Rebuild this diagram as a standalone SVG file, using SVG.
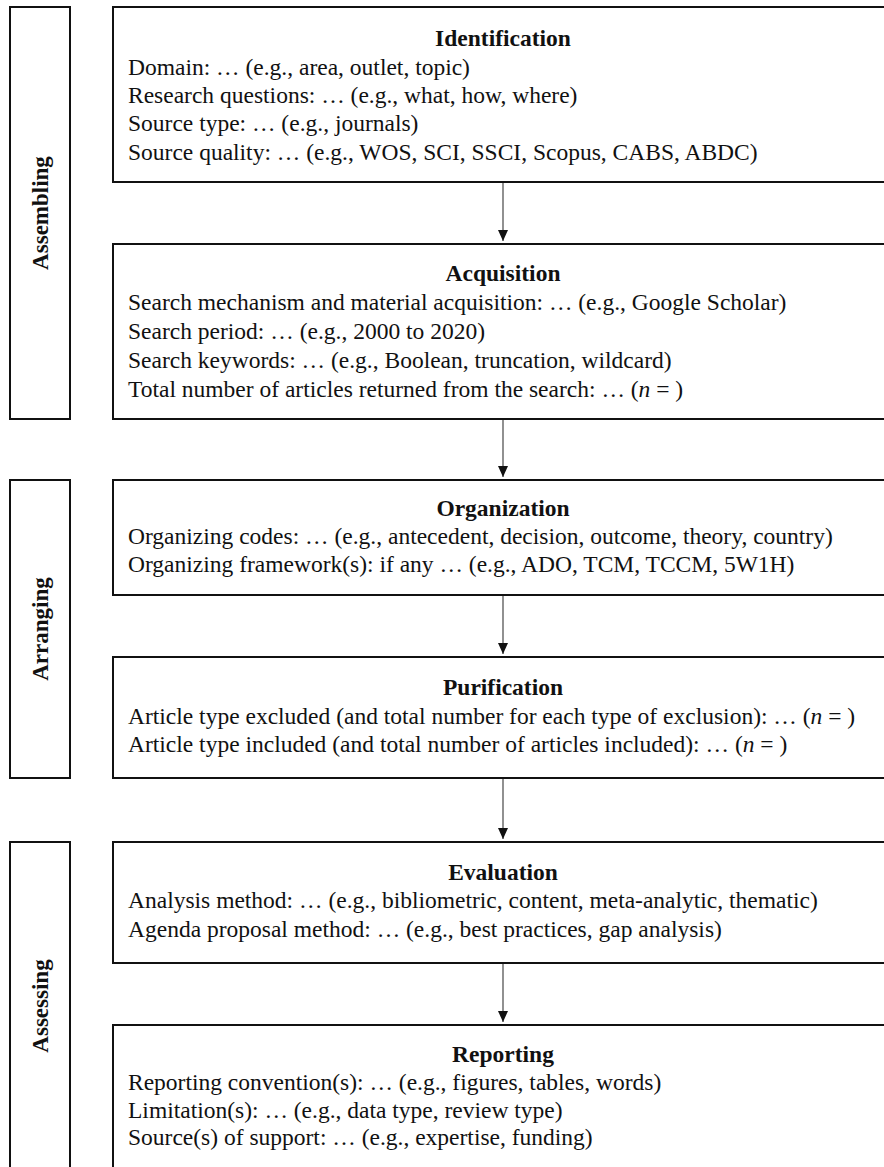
<svg xmlns="http://www.w3.org/2000/svg" width="884" height="1167" viewBox="0 0 884 1167">
<defs>
<style>
.box{fill:#fff;stroke:#111;stroke-width:2}
.t{font-family:"Liberation Serif","Times New Roman",serif;font-size:23.5px;fill:#111}
.h{font-family:"Liberation Serif","Times New Roman",serif;font-size:23.5px;font-weight:bold;fill:#111;text-anchor:middle}
.side{font-family:"Liberation Serif","Times New Roman",serif;font-size:23px;font-weight:bold;fill:#111;text-anchor:middle}
.conn{stroke:#555;stroke-width:1.3;fill:none}
</style>
<marker id="ah" viewBox="0 0 11 10" refX="11" refY="5" markerWidth="11" markerHeight="10" markerUnits="userSpaceOnUse" orient="auto">
<path d="M0,0 L11,5 L0,10 Z" fill="#111"/>
</marker>
</defs>
<rect width="884" height="1167" fill="#fff"/>

<g id="stage-assembling">
<rect class="box" x="10" y="7" width="60" height="412"/>
<text class="side" transform="translate(48,213) rotate(-90)">Assembling</text>
</g>
<g id="stage-arranging">
<rect class="box" x="10" y="480" width="60" height="298"/>
<text class="side" transform="translate(48,629) rotate(-90)">Arranging</text>
</g>
<g id="stage-assessing">
<rect class="box" x="10" y="842" width="60" height="340"/>
<text class="side" transform="translate(48,1006) rotate(-90)">Assessing</text>
</g>

<g id="identification">
<rect class="box" x="113" y="7" width="790" height="175"/>
<text class="h" x="503" y="46">Identification</text>
<text class="t" x="128" y="75">Domain: … (e.g., area, outlet, topic)</text>
<text class="t" x="128" y="103">Research questions: … (e.g., what, how, where)</text>
<text class="t" x="128" y="131">Source type: … (e.g., journals)</text>
<text class="t" x="128" y="160">Source quality: … (e.g., WOS, SCI, SSCI, Scopus, CABS, ABDC)</text>
</g>

<g id="acquisition">
<rect class="box" x="113" y="244" width="790" height="175"/>
<text class="h" x="503" y="281">Acquisition</text>
<text class="t" x="128" y="310">Search mechanism and material acquisition: … (e.g., Google Scholar)</text>
<text class="t" x="128" y="339">Search period: … (e.g., 2000 to 2020)</text>
<text class="t" x="128" y="368">Search keywords: … (e.g., Boolean, truncation, wildcard)</text>
<text class="t" x="128" y="397">Total number of articles returned from the search: … (<tspan font-style="italic">n</tspan> = )</text>
</g>

<g id="organization">
<rect class="box" x="113" y="480" width="790" height="115"/>
<text class="h" x="503" y="516">Organization</text>
<text class="t" x="128" y="544">Organizing codes: … (e.g., antecedent, decision, outcome, theory, country)</text>
<text class="t" x="128" y="572">Organizing framework(s): if any … (e.g., ADO, TCM, TCCM, 5W1H)</text>
</g>

<g id="purification">
<rect class="box" x="113" y="657" width="790" height="121"/>
<text class="h" x="503" y="695">Purification</text>
<text class="t" x="128" y="724">Article type excluded (and total number for each type of exclusion): … (<tspan font-style="italic">n</tspan> = )</text>
<text class="t" x="128" y="752">Article type included (and total number of articles included): … (<tspan font-style="italic">n</tspan> = )</text>
</g>

<g id="evaluation">
<rect class="box" x="113" y="842" width="790" height="121"/>
<text class="h" x="503" y="880">Evaluation</text>
<text class="t" x="128" y="908">Analysis method: … (e.g., bibliometric, content, meta-analytic, thematic)</text>
<text class="t" x="128" y="937">Agenda proposal method: … (e.g., best practices, gap analysis)</text>
</g>

<g id="reporting">
<rect class="box" x="113" y="1025" width="790" height="170"/>
<text class="h" x="503" y="1062">Reporting</text>
<text class="t" x="128" y="1090">Reporting convention(s): … (e.g., figures, tables, words)</text>
<text class="t" x="128" y="1118">Limitation(s): … (e.g., data type, review type)</text>
<text class="t" x="128" y="1145">Source(s) of support: … (e.g., expertise, funding)</text>
</g>

<g id="connectors">
<line class="conn" x1="503" y1="183" x2="503" y2="241" marker-end="url(#ah)"/>
<line class="conn" x1="503" y1="420" x2="503" y2="477" marker-end="url(#ah)"/>
<line class="conn" x1="503" y1="596" x2="503" y2="654" marker-end="url(#ah)"/>
<line class="conn" x1="503" y1="779" x2="503" y2="839" marker-end="url(#ah)"/>
<line class="conn" x1="503" y1="964" x2="503" y2="1022" marker-end="url(#ah)"/>
</g>
</svg>
